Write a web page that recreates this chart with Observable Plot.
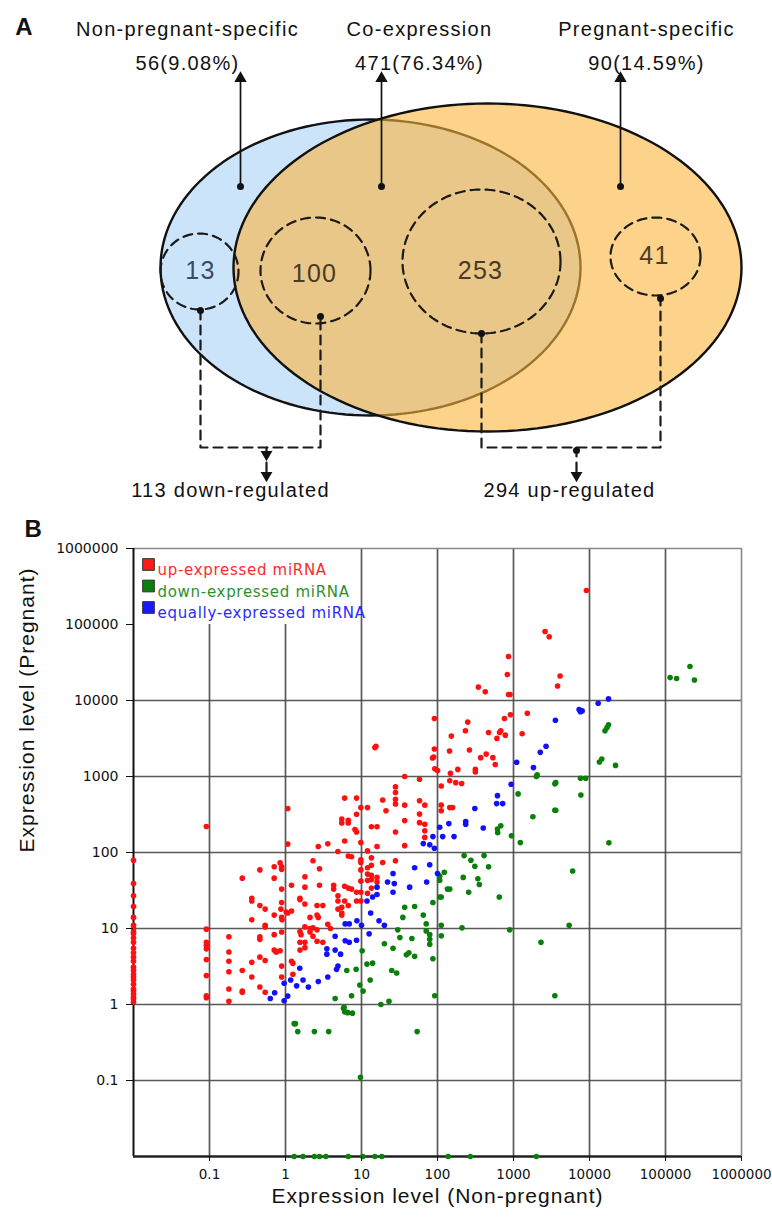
<!DOCTYPE html>
<html>
<head>
<meta charset="utf-8">
<script src="https://cdn.jsdelivr.net/npm/d3@7"></script>
<script src="https://cdn.jsdelivr.net/npm/@observablehq/plot@0.6"></script>
<style>
  html, body { margin: 0; padding: 0; background: #fff; }
  #wrap { position: relative; width: 772px; height: 1217px; overflow: hidden; }
  #panelA { position: absolute; left: 0; top: 0; }
  #panelB { position: absolute; left: 0; top: 510px; }
</style>
</head>
<body>
<div id="wrap"><div id="panelA"></div><div id="panelB"></div></div>
<script>
// ---------------- DATA ----------------
// Panel A: Venn diagram values
const vennCategories = ["Non-pregnant-specific", "Co-expression", "Pregnant-specific"];
const vennCounts = ["56(9.08%)", "471(76.34%)", "90(14.59%)"];
const subsetCounts = ["13", "100", "253", "41"];
const regulationLabels = ["113 down-regulated", "294 up-regulated"];

// Panel B: [non-pregnant level, pregnant level]
const upExpressed = [
[0.01,79],[0.01,39],[0.01,27],[0.01,19.5],[0.01,14],[0.01,11],[0.01,10],[0.01,9],[0.01,8.5],[0.01,7.5],[0.01,6.6],[0.01,5.5],[0.01,4.8],[0.01,4.2],[0.01,3.7],[0.01,3.1],[0.01,2.8],[0.01,2.5],[0.01,2.3],[0.01,2.1],[0.01,1.85],[0.01,1.6],[0.01,1.5],[0.01,1.37],[0.01,1.25],[0.01,1.18],[0.01,1.07],
[0.091,220],[0.091,9.8],[0.091,6.6],[0.091,6.0],[0.091,5.4],[0.091,3.9],[0.091,2.4],[0.091,1.3],[0.091,1.23],
[0.18,7.8],[0.18,4.9],[0.18,3.7],[0.18,2.7],[0.18,1.6],[0.18,1.1],
[0.27,46],[0.27,2.8],[0.27,1.5],[0.27,1.45],
[0.36,25],[0.36,23],[0.36,13],[0.36,3.6],[0.36,2.3],
[0.46,59],[0.46,20],[0.46,7.8],[0.46,7.2],[0.46,4.2],[0.46,1.7],
[0.54,18],[0.54,11],[0.54,10.5],[0.54,3.8],[0.54,1.45],
[0.71,65],[0.71,46],[0.71,15],[0.71,8.3],[0.71,5.2],[0.74,5.0],[0.76,4.9],
[0.85,73],[0.89,65],[0.89,60],[0.89,33],[0.89,22],[0.87,18],[0.89,14],[0.9,13],[0.89,9],[0.85,5.1],[0.89,3.2],[0.89,2.3],
[1.07,380],[1.07,129],[1.07,16],[1.02,16.5],
[1.2,37],[1.2,17],[1.2,3.7],[1.25,3.5],[1.25,2.5],
[1.55,25],[1.55,24],[1.55,9.1],[1.6,8.3],[1.55,6.6],[1.55,5.2],
[1.8,48],[1.8,35],[1.8,21],[1.8,10.5],[1.8,6.6],[1.8,5.6],
[2.1,14],[2.1,10],[2.1,9],
[2.3,78],[2.3,10.2],[2.3,7.9],
[2.6,20],[2.6,15],[2.7,14],[2.6,9.6],[2.6,6.8],
[2.7,120],[2.8,61],[2.8,37],
[3.1,20],[3.1,6.6],
[3.6,130],[3.6,11.4],[3.9,10],
[4.3,37],[4.3,33],
[4.9,103],[4.9,27],[4.9,23],[4.9,18],
[5.5,275],[5.5,245],[5.5,19],[5.5,16],[5.5,15],
[6.0,520],[6.0,142],[6.0,36],[6.0,23],
[6.7,265],[6.7,245],[6.7,90],[6.7,34],[6.7,20],
[7.4,88],[7.4,33],
[8.6,520],[8.6,318],[8.6,186],[8.2,200],[8.6,30],[8.6,23],
[9.8,390],[9.8,135],[9.8,74],[9.8,80],[9.8,59],[9.8,42],[9.8,30],[9.8,23],
[12,390],[12,105],[12,63],[12,52],[12,43],[12,29],
[13.5,218],[13.5,85],[13.5,68],[13.5,50],[13.5,44],[13.5,34],
[16,218],[16,120],[16,47],[16,41],
[19,490],[19,74],[21,355],
[28,730],[28,615],[28,500],[28,435],[28,186],[28,78],
[37,1000],[37,420],[37,263],[37,123],
[58,920],[58,480],[58,320],[58,247],
[68,420],[68,235],[68,193],[68,158],
[112,750],[112,420],[112,355],
[145,880],[174,830],[208,810],[145,390],[158,390],
[15,2400],[15.5,2500],
[9100,280000],[2600,81000],[2950,69000],[860,38000],[830,22000],[4100,21000],[3800,15500],[345,15000],[425,13000],[860,12000],[900,12000],
[91,5800],[250,5200],[233,4000],[152,3400],[470,3800],[680,4000],[655,3800],[605,3170],[780,3500],[760,5800],[910,6500],[1520,6800],[1300,3650],
[91,2300],[89,1800],[86,1750],[144,2170],[263,2230],[370,1770],[437,1970],[535,1770],[575,1440],[315,1240],[315,1150],[185,1240],[92,1260],[100,1200],[148,1100]
];
const downExpressed = [
[4.5,1.2],[5.8,0.89],[6.6,0.78],[6.0,0.8],[7.4,1.3],[6.4,2.8],[8.5,2.9],[10.2,5.1],[10.5,1.5],[9.5,1.8],[11.8,3.4],[13,2.1],[14,3.5],[18,1.0],[23,1.1],[20,6.3],[25,2.8],[29,2.6],[26,5.5],[30,9.6],[32,7.6],[37,19],[35,14],[39,4.5],[42,4.8],[46,7.4],[50,4.3],[50,19.5],[65,15],[71,11.5],[71,9.3],[79,8.3],[79,7.2],[79,6.2],[87,4.0],[92,1.3],[87,22],[107,26],[107,49],[112,11],[112,8],[123,55],[135,33],[107,43],[112,26],
[224,91],[275,79],[310,66],[410,91],[470,65],[340,45],[355,38],[218,47],[257,30],[145,33],[650,26],[210,10.2],[890,9.6],[2300,6.6],[5400,11],[6000,57],[3500,1.3],
[615,204],[680,225],[620,182],[940,166],[1230,135],[1150,590],[1800,295],[3500,360],[3600,360],[3500,800],[3600,830],[7700,570],[7600,950],[8900,950],[18000,134],
[210000,28000],[115000,20000],[140000,19500],[240000,18600],[17800,4800],[17000,4400],[16000,4000],[13500,1550],[14500,1700],[22000,1400],[2050,1050],[2000,1000],
[1.3,0.56],[1.35,0.56],[1.45,0.44],[2.4,0.44],[3.7,0.44],[5.9,0.92],[6.5,0.79],[7.6,0.77],[54,0.44],[9.7,0.11],
[1.3,0.01],[1.7,0.01],[2.4,0.01],[2.8,0.01],[3.4,0.01],[6.7,0.01],[10.4,0.01],[15,0.01],[18.5,0.01],[138,0.01],[270,0.01],[2000,0.01]
];
const equallyExpressed = [
[0.63,1.2],[0.72,1.43],[0.96,1.12],[0.96,1.9],[1.07,1.29],[1.17,2.1],[1.4,1.76],[1.54,3.0],[1.7,2.1],[2.0,1.7],[2.7,2.0],[3.5,4.6],[3.5,5.4],[3.6,2.3],[4.5,7.9],[4.5,5.2],[4.7,2.9],[5.3,4.6],[4.9,3.2],[6.1,11.5],[6.9,11.5],[6.1,6.9],[6.9,6.6],[8.6,7.0],[8.7,12.6],[10,11],[11.8,23],[12.6,8.5],[13.2,16],[14,26],[16,28],[16,35],[17,12.6],[20,11],[22,41],[26,53],[27,39],[26,30],[43,35],[50,63],[65,131],[79,126],[79,69],[72,41],[91,114],[87,162],[107,215],[117,162],
[930,790],[615,560],[600,440],[720,440],[310,380],[235,255],[235,235],[400,210],[165,162],[141,240],[100,53],
[17800,10500],[13000,9200],[7300,7600],[7600,7100],[8000,7300],[3560,5500],[2680,2500],[2250,2080],[1100,1540],[1830,1310]
];
const tickValues = [0.1, 1, 10, 100, 1000, 10000, 100000, 1000000];
const legendLabels = ["up-expressed miRNA", "down-expressed miRNA", "equally-expressed miRNA"];
const legendColors = ["#ff1a1a", "#0a800a", "#1a1aff"];
const legendTextColors = ["#ff2a2a", "#2f8f2f", "#2a2aff"];

// ---------------- PANEL A (layout in pixels) ----------------
const sets = [
  {id: "np", cx: 370, cy: 267, rx: 210, ry: 148},
  {id: "p",  cx: 487, cy: 267, rx: 254, ry: 164}
];
const subsets = [
  {id: "s13",  cx: 199, cy: 271, rx: 39, ry: 38, tx: 200, ty: 270, color: "#3a4b63"},
  {id: "s100", cx: 315, cy: 270, rx: 55, ry: 53, tx: 314, ty: 273, color: "#4a3b25"},
  {id: "s253", cx: 481, cy: 261, rx: 79, ry: 72, tx: 480, ty: 270, color: "#4a3b25"},
  {id: "s41",  cx: 655, cy: 256, rx: 45, ry: 39, tx: 654, ty: 255, color: "#4a3b25"}
];
function outline(e, n = 160) {
  return d3.range(n).map(i => {
    const t = 2 * Math.PI * i / n;
    return {id: e.id, x: e.cx + e.rx * Math.cos(t), y: e.cy + e.ry * Math.sin(t)};
  });
}
const labelX = [187, 419, 646];
const arrowX = [240, 381, 620];
const arrowTop = 80, arrowBottom = 186;
const brackets = [
  {id: "L", pts: [[200, 310], [200, 447], [320, 447], [320, 316]]},
  {id: "R", pts: [[481, 333], [481, 447], [660, 447], [660, 298]]},
  {id: "Ld", pts: [[266, 447], [266, 471]]},
  {id: "Rd", pts: [[576, 447], [576, 471]]}
];
const bracketPts = brackets.flatMap(b => b.pts.map(p => ({id: b.id, x: p[0], y: p[1]})));
const endDots = [[240,186],[381,186],[620,186],[200,310],[320,316],[481,333],[660,298],[576,450]];
const downHeads = [[266,454],[266,475],[576,475]];
const regX = [230, 569];

const A = Plot.plot({
  width: 772, height: 510, margin: 0,
  x: {domain: [0, 772], range: [0, 772], axis: null},
  y: {domain: [0, 510], range: [0, 510], axis: null},
  style: {fontFamily: "Liberation Sans, Arial, sans-serif", background: "white"},
  marks: [
    Plot.line(outline(sets[0]), {x: "x", y: "y", z: "id", curve: "linear-closed", fill: "#cce4f9", stroke: "#111", strokeWidth: 2.4}),
    Plot.line(outline(sets[1]), {x: "x", y: "y", z: "id", curve: "linear-closed", fill: "#fbb43c", fillOpacity: 0.6, stroke: "#111", strokeWidth: 2.4}),
    Plot.line(subsets.flatMap(s => outline(s)), {x: "x", y: "y", z: "id", curve: "linear-closed", fill: "none", stroke: "#1a1a1a", strokeWidth: 2.2, strokeDasharray: "9,6"}),
    Plot.line(bracketPts, {x: "x", y: "y", z: "id", stroke: "#1a1a1a", strokeWidth: 2.2, strokeDasharray: "9,6"}),
    Plot.link(arrowX, {x1: d => d, x2: d => d, y1: () => arrowBottom, y2: () => arrowTop, stroke: "#111", strokeWidth: 1.7}),
    Plot.dot(arrowX, {x: d => d, y: () => arrowTop - 2, symbol: "triangle", r: 4.6, fill: "#111"}),
    Plot.dot(endDots, {x: d => d[0], y: d => d[1], r: 3.5, fill: "#111"}),
    Plot.dot(downHeads, {x: d => d[0], y: d => d[1], symbol: "triangle", rotate: 180, r: 4.4, fill: "#111"}),
    Plot.text(["A"], {x: () => 24, y: () => 27, fontSize: 24, fontWeight: "bold", fill: "#111"}),
    Plot.text(vennCategories, {x: (d, i) => labelX[i], y: () => 29, fontSize: 20, fill: "#111"}),
    Plot.text(vennCounts, {x: (d, i) => labelX[i], y: () => 63, fontSize: 20, fill: "#111"}),
    Plot.text(subsetCounts, {x: (d, i) => subsets[i].tx, y: (d, i) => subsets[i].ty, fontSize: 25, fill: (d, i) => subsets[i].color}),
    Plot.text(regulationLabels, {x: (d, i) => regX[i], y: () => 490, fontSize: 20, fill: "#111"})
  ]
});
d3.select(A).selectAll("text").attr("letter-spacing", "1.3px");
document.getElementById("panelA").appendChild(A);

// ---------------- PANEL B ----------------
const gridColor = "#474747";
const legendMarks = legendLabels.flatMap((lab, i) => [
  Plot.dot([lab], {frameAnchor: "top-left", dx: 15, dy: 16 + i * 21.5, symbol: "square", r: 6.6, fill: legendColors[i], stroke: "#333", strokeWidth: 1}),
  Plot.text([lab], {frameAnchor: "top-left", dx: 24, dy: 16 + i * 21.5, textAnchor: "start", fill: legendTextColors[i], fontSize: 15, fontFamily: "DejaVu Sans, sans-serif"})
]);

const B = Plot.plot({
  width: 772, height: 707,
  marginTop: 38, marginBottom: 61, marginLeft: 133, marginRight: 31,
  x: {type: "log", domain: [0.01, 1e6]},
  y: {type: "log", domain: [0.01, 1e6]},
  style: {fontFamily: "DejaVu Sans, sans-serif", background: "white", color: "#111"},
  marks: [
    Plot.ruleX(tickValues.slice(2, 7), {stroke: gridColor, strokeWidth: 1.7, strokeOpacity: 0.9}),
    Plot.ruleX(tickValues.slice(0, 2), {y1: () => 0.01, y2: () => 1e5, stroke: gridColor, strokeWidth: 1.7, strokeOpacity: 0.9}),
    Plot.ruleY(tickValues.slice(0, 6), {stroke: gridColor, strokeWidth: 1.7, strokeOpacity: 0.9}),
    Plot.ruleY([1e6], {stroke: "#888", strokeWidth: 1.6}),
    Plot.ruleX([1e6], {stroke: "#888", strokeWidth: 1.6}),
    Plot.ruleX([0.01], {stroke: "#111", strokeWidth: 2}),
    Plot.ruleY([0.01], {stroke: "#222", strokeWidth: 2.6}),
    Plot.dot(upExpressed, {x: d => d[0], y: d => d[1], r: 2.8, fill: "#ff1010"}),
    Plot.dot(downExpressed, {x: d => d[0], y: d => d[1], r: 2.8, fill: "#0a800a"}),
    Plot.dot(equallyExpressed, {x: d => d[0], y: d => d[1], r: 2.8, fill: "#1010ff"}),
    Plot.axisY(tickValues, {tickSize: 7, tickPadding: 8, tickFormat: d => String(d), fontSize: 14, label: null}),
    Plot.axisX(tickValues, {tickSize: 5, tickPadding: 8, tickFormat: d => String(d), fontSize: 13.5, label: null}),
    ...legendMarks,
    Plot.text(["Expression level (Pregnant)"], {frameAnchor: "left", dx: -106, rotate: -90, fontSize: 21, fill: "#111", fontFamily: "Liberation Sans, Arial, sans-serif"}),
    Plot.text(["Expression level (Non-pregnant)"], {frameAnchor: "bottom", dy: 46, fontSize: 21, fill: "#111", fontFamily: "Liberation Sans, Arial, sans-serif"}),
    Plot.text(["B"], {frameAnchor: "top-left", dx: -109, dy: -29, fontSize: 24, fontWeight: "bold", fill: "#111", fontFamily: "Liberation Sans, Arial, sans-serif"})
  ]
});
d3.select(B).selectAll("text").each(function () {
  const t = this.textContent;
  if (t.startsWith("Expression")) d3.select(this).attr("letter-spacing", "1.0px");
  else if (legendLabels.includes(t)) d3.select(this).attr("letter-spacing", "0.7px");
});
document.getElementById("panelB").appendChild(B);
</script>
</body>
</html>
